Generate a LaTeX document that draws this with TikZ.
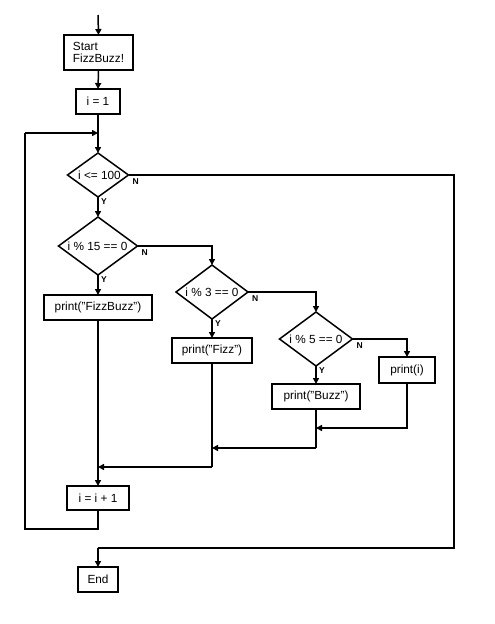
\documentclass[tikz,border=0pt]{standalone}
\usepackage{fontspec}
\setmainfont{Liberation Sans}
\usetikzlibrary{arrows.meta,shapes.geometric}
\begin{document}
\begin{tikzpicture}[x=1pt,y=-1pt,
  every node/.style={inner sep=0pt,outer sep=0pt},
  box/.style={draw,line width=1.5pt,rectangle,font=\fontsize{11.8}{11.5}\selectfont},
  dia/.style={draw,line width=1.5pt,diamond},
  dtext/.style={font=\fontsize{11.8}{11.5}\selectfont},
  yn/.style={font=\fontsize{8.5}{8.5}\selectfont\bfseries,anchor=north west},
  line/.style={line width=1.5pt},
  arr/.style={line width=1.5pt,-{Triangle[length=6pt,width=6pt]}}]
\useasboundingbox (0,0) rectangle (495,624);
% nodes
\coordinate (top) at (98,15);
\node[box,minimum width=69pt,minimum height=35pt,align=left] (start) at (98.5,52.5) {Start\\FizzBuzz!};
\node[box,minimum width=44pt,minimum height=25pt] (i1) at (98,101.5) {i = 1};
\coordinate (j1) at (98,133);
\node[dia,minimum width=61pt,minimum height=44pt] (d1) at (98,175) {};
\node[dtext] (d1t) at (99.5,175) {i <= 100};
\node[dia,minimum width=79pt,minimum height=58pt] (d2) at (98,246) {};
\node[dtext] (d2t) at (97.5,246) {i \% 15 == 0};
\node[box,minimum width=108pt,minimum height=25pt] (fb) at (98,307.5) {print("FizzBuzz")};
\node[dia,minimum width=72pt,minimum height=54pt] (d3) at (212,292) {};
\node[dtext] (d3t) at (212,292) {i \% 3 == 0};
\node[box,minimum width=80pt,minimum height=25pt] (fizz) at (212,350.5) {print("Fizz")};
\node[dia,minimum width=73pt,minimum height=54pt] (d4) at (316,339) {};
\node[dtext] (d4t) at (316,339) {i \% 5 == 0};
\node[box,minimum width=56pt,minimum height=26pt] (pi) at (407,370) {print(i)};
\node[box,minimum width=88pt,minimum height=25pt] (buzz) at (316,396.5) {print("Buzz")};
\node[box,minimum width=62pt,minimum height=24pt] (inc) at (98,498) {i = i + 1};
\node[box,minimum width=40pt,minimum height=25pt] (end) at (98,579.5) {End};
% labels
\node[yn] (y1) at ([xshift=3pt,yshift=-2pt]d1.south) {Y};
\node[yn] (n1) at ([xshift=4pt,yshift=-4pt]d1.east) {N};
\node[yn] (y2) at ([xshift=3pt,yshift=-2pt]d2.south) {Y};
\node[yn] (n2) at ([xshift=4pt,yshift=-4pt]d2.east) {N};
\node[yn] (y3) at ([xshift=3pt,yshift=-2pt]d3.south) {Y};
\node[yn] (n3) at ([xshift=4pt,yshift=-4pt]d3.east) {N};
\node[yn] (y4) at ([xshift=3pt,yshift=-2pt]d4.south) {Y};
\node[yn] (n4) at ([xshift=4pt,yshift=-4pt]d4.east) {N};
% coordinates
\coordinate (r1) at (454,175);
\coordinate (r2) at (454,548);
\coordinate (e1) at (98,548);
\coordinate (m1) at (316,428);
\coordinate (m2) at (316,448);
\coordinate (m3) at (212,448);
\coordinate (m4) at (212,467);
\coordinate (m5) at (98,467);
\coordinate (l1) at (98,529);
\coordinate (l2) at (25,529);
\coordinate (l3) at (25,133);
% connectors
\draw[arr] (top) -- (start.north);
\draw[arr] (start.south) -- (i1.north);
\draw[arr] (i1.south) -- (d1.north);
\draw[arr] (d1.south) -- (d2.north);
\draw[line] (d1.east) -- (r1) -- (r2) -- (e1);
\draw[arr] (e1) -- (end.north);
\draw[arr] (d2.south) -- (fb.north);
\draw[arr] (d2.east) -| (d3.north);
\draw[arr] (d3.south) -- (fizz.north);
\draw[arr] (d3.east) -| (d4.north);
\draw[arr] (d4.south) -- (buzz.north);
\draw[arr] (d4.east) -| (pi.north);
\draw[arr] (pi.south) |- (m1);
\draw[line] (buzz.south) -- (m2);
\draw[arr] (m2) -- (m3);
\draw[line] (fizz.south) -- (m4);
\draw[arr] (m4) -- (m5);
\draw[arr] (fb.south) -- (inc.north);
\draw[line] (inc.south) -- (l1) -- (l2) -- (l3);
\draw[arr] (l3) -- (j1);
\end{tikzpicture}
\end{document}
